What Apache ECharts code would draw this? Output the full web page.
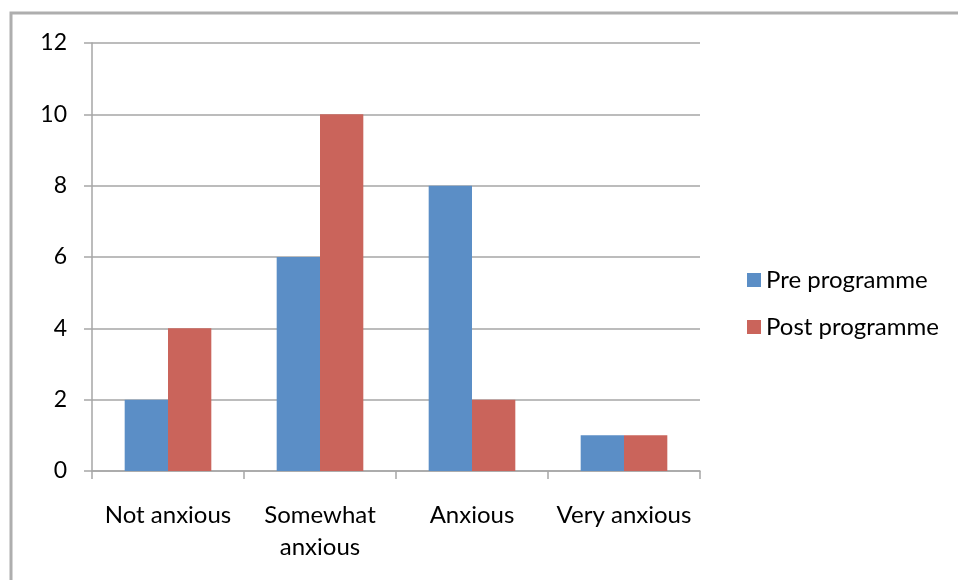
<!DOCTYPE html>
<html>
<head>
<meta charset="utf-8">
<script src="https://cdn.jsdelivr.net/npm/echarts@6/dist/echarts.min.js"></script>
<style>
html,body{margin:0;padding:0;background:#fff;}
#chart{width:958px;height:580px;}
</style>
</head>
<body>
<div id="chart"></div>
<script>
const categories = ['Not anxious', 'Somewhat\nanxious', 'Anxious', 'Very anxious'];
const preProgramme = [2, 6, 8, 1];
const postProgramme = [4, 10, 2, 1];
const seriesNames = ['Pre programme', 'Post programme'];
const yTicks = { min: 0, max: 12, interval: 2 };

const FONT = 'Lato, "Open Sans", sans-serif';
const chart = echarts.init(document.getElementById('chart'));
chart.setOption({
  animation: false,
  backgroundColor: '#fff',
  graphic: [{
    type: 'rect',
    shape: { x: 11, y: 13, width: 1000, height: 700 },
    style: { fill: 'none', stroke: '#AEAEAE', lineWidth: 3 },
    silent: true
  }],
  grid: { left: 92, right: 258, top: 43, bottom: 109 },
  legend: {
    orient: 'vertical',
    left: 742,
    top: 261,
    itemWidth: 14,
    itemHeight: 14,
    itemGap: 19,
    icon: 'rect',
    textStyle: { fontFamily: FONT, fontSize: 24, color: '#000', lineHeight: 28 },
    data: seriesNames
  },
  xAxis: {
    type: 'category',
    data: categories,
    axisLine: { lineStyle: { color: '#A6A6A6', width: 1.5 } },
    axisTick: { show: true, length: 8, lineStyle: { color: '#A6A6A6', width: 1.5 } },
    axisLabel: { color: '#000', fontFamily: FONT, fontSize: 24, margin: 28, lineHeight: 32, interval: 0 }
  },
  yAxis: {
    type: 'value',
    min: yTicks.min, max: yTicks.max, interval: yTicks.interval,
    axisLine: { show: true, lineStyle: { color: '#A6A6A6', width: 1.5 } },
    axisTick: { show: true, length: 8, lineStyle: { color: '#A6A6A6', width: 1.5 } },
    axisLabel: { color: '#000', fontFamily: FONT, fontSize: 23, margin: 25 },
    splitLine: { show: true, lineStyle: { color: '#A6A6A6', width: 1.5 } }
  },
  series: [
    { name: seriesNames[0], type: 'bar', data: preProgramme, barGap: '0%', barCategoryGap: '43%',
      itemStyle: { color: '#5B8EC6' } },
    { name: seriesNames[1], type: 'bar', data: postProgramme,
      itemStyle: { color: '#CA645B' } }
  ]
});
</script>
</body>
</html>
